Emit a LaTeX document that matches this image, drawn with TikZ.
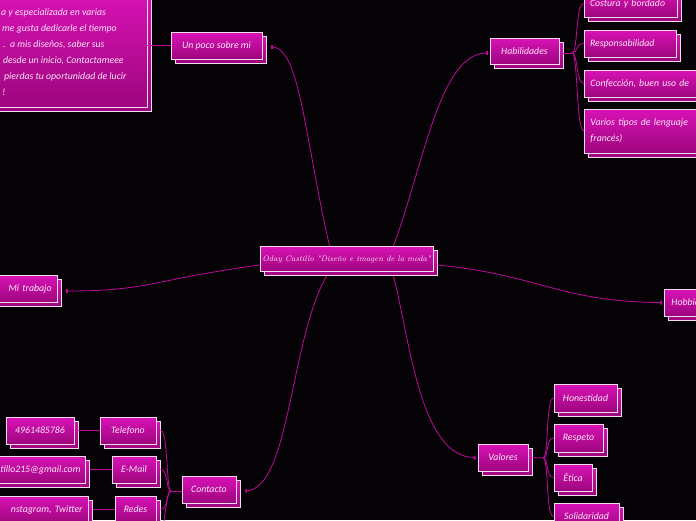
\documentclass[tikz,border=0pt]{standalone}
\usepackage{fontspec}
\setmainfont{Carlito}
\newfontfamily\titlefont{Latin Modern Roman}
\usetikzlibrary{shadows,arrows.meta}
\definecolor{ptop}{HTML}{D812B6}
\definecolor{pbot}{HTML}{9E067E}
\definecolor{bline}{HTML}{F2DCEE}
\definecolor{linkc}{HTML}{C2089E}
\definecolor{txt}{HTML}{FBE6F6}
\definecolor{bg}{HTML}{050305}
\begin{document}
\begin{tikzpicture}[x=1pt,y=-1pt,
  box/.style={draw=bline, line width=0.9pt, top color=ptop, bottom color=pbot, text=txt,
    font=\itshape\fontsize{9.8}{16}\selectfont, inner sep=0pt, minimum height=27pt,
    general shadow={shadow xshift=4pt, shadow yshift=-4pt, draw=bline, line width=0.9pt, top color=ptop, bottom color=pbot}},
  para/.style={text=txt, font=\itshape\fontsize{9.8}{16}\selectfont, inner sep=0pt, anchor=west},
  link/.style={draw=linkc, line width=0.8pt},
  tip/.style={-{Bar[width=4pt,line width=0.8pt] Bar[width=4pt,line width=0.8pt]}}
]
\fill[bg] (0,0) rectangle (696,520);
\useasboundingbox (0,0) rectangle (696,520);

% central
\node[box, minimum width=173pt, minimum height=25pt, font=\titlefont\itshape\fontsize{8}{10}\selectfont] (center) at (346.5,259) {Oday Castillo "Diseño e imagen de la moda"};

% about
\node[box, minimum width=157pt, minimum height=117pt] (about) at (68.5,48.5) {};
\node[para] (ab1) at (1,13) {a y especializada en varias};
\node[para] (ab2) at (2,29) {me gusta dedicarle el tiempo};
\node[para] (ab3) at (3,45) {.\ \ a mis diseños, saber sus};
\node[para] (ab4) at (3,61) {desde un inicio, Contactameee};
\node[para] (ab5) at (4,77) {pierdas tu oportunidad de lucir};
\node[para] (ab6) at (2,92) {!};
\node[box, minimum width=91pt] (unpoco) at (216.5,45.5) {Un poco sobre mi};

% habilidades
\node[box, minimum width=69pt, minimum height=26pt] (habil) at (524.5,51) {Habilidades};
\node[box, minimum width=93pt, text width=81pt, align=left] (costura) at (630.5,3.5) {Costura y bordado};
\node[box, minimum width=92pt, text width=80pt, align=left] (respons) at (630,43.5) {Responsabilidad};
\node[box, anchor=west, minimum width=140pt, text width=128pt, align=left] (confec) at (584,83.5) {Confección, buen uso de};
\node[box, anchor=west, minimum width=140pt, minimum height=44pt, text width=128pt, align=left] (varios) at (584,131) {Varios tipos de lenguaje\\francés)};

% mi trabajo, hobbies
\node[box, anchor=east, minimum width=80pt, text width=68pt, align=right] (mitrabajo) at (58,288.5) {Mi trabajo};
\node[box, anchor=west, minimum width=80pt, text width=66pt, align=left] (hobbies) at (664,302.5) {Hobbies};

% contacto
\node[box, minimum width=54pt] (contacto) at (209,489.5) {Contacto};
\node[box, minimum width=56pt] (telefono) at (128,430.5) {Telefono};
\node[box, minimum width=44pt] (email) at (134,469.5) {E-Mail};
\node[box, minimum width=41pt] (redes) at (135.5,509.5) {Redes};
\node[box, minimum width=68pt] (phone) at (40,430.5) {4961485786};
\node[box, anchor=east, minimum width=100pt, text width=90pt, align=right] (mail) at (86,469.5) {tillo215@gmail.com};
\node[box, anchor=east, minimum width=100pt, text width=88pt, align=right] (social) at (89,509.5) {nstagram, Twitter};

% valores
\node[box, minimum width=50pt] (valores) at (503,457.5) {Valores};
\node[box, minimum width=63pt, minimum height=28pt] (honest) at (585.5,398) {Honestidad};
\node[box, minimum width=49pt, minimum height=28pt] (respeto) at (578.5,438) {Respeto};
\node[box, minimum width=38pt] (etica) at (573,477.5) {Ética};
\node[box, minimum width=65pt] (solid) at (586.5,516.5) {Solidaridad};

% junction coordinates
\coordinate (jh) at (572,53);
\coordinate (jv) at (543,458);
\coordinate (jc) at (171,491);
\coordinate (cdown) at (160,560);

% central connectors
\draw[link,tip] ([xshift=70pt]center.north west) .. controls (305,140) and (300,47) .. ([xshift=9pt,yshift=-1.5pt]unpoco.east);
\draw[link,tip] ([xshift=-40pt]center.north east) .. controls (425,160) and (440,53) .. ([xshift=-2pt,yshift=-2pt]habil.west);
\draw[link,tip] ([yshift=-6pt]center.west) .. controls (150,280) and (150,291) .. ([xshift=8pt,yshift=-2.5pt]mitrabajo.east);
\draw[link,tip] ([xshift=4pt,yshift=-6pt]center.east) .. controls (540,275) and (560,302) .. ([xshift=-2pt]hobbies.west);
\draw[link,tip] ([xshift=67pt,yshift=-4pt]center.south west) .. controls (290,340) and (290,489) .. ([xshift=9pt,yshift=-1.5pt]contacto.east);
\draw[link,tip] ([xshift=-40pt,yshift=-4pt]center.south east) .. controls (410,340) and (420,458) .. ([xshift=-2pt]valores.west);

% about -> un poco
\draw[link] (unpoco.west) -- (unpoco.west -| about.east);

% habilidades branches
\draw[link] ([xshift=4pt,yshift=-2pt]habil.east) -- (jh);
\foreach \n in {costura,respons,confec,varios}
  \draw[link] (jh) .. controls +(6,0) and +(-8,0) .. (\n.west);

% valores branches
\draw[link] ([xshift=4pt]valores.east) -- (jv);
\foreach \n in {honest,respeto,etica,solid}
  \draw[link] (jv) .. controls +(6,0) and +(-8,0) .. (\n.west);

% contacto branches
\draw[link] ([yshift=-1.5pt]contacto.west) -- (jc);
\foreach \n in {telefono,email,redes}
  \draw[link] (jc) .. controls +(-5,0) and +(8,0) .. ([xshift=4pt]\n.east);
\draw[link] (jc) .. controls +(-5,0) and +(2,-20) .. (cdown);

% leaf links
\draw[link] ([xshift=4pt]phone.east) -- (telefono.west);
\draw[link] ([xshift=4pt]mail.east) -- (email.west);
\draw[link] ([xshift=4pt]social.east) -- (redes.west);
\end{tikzpicture}
\end{document}
